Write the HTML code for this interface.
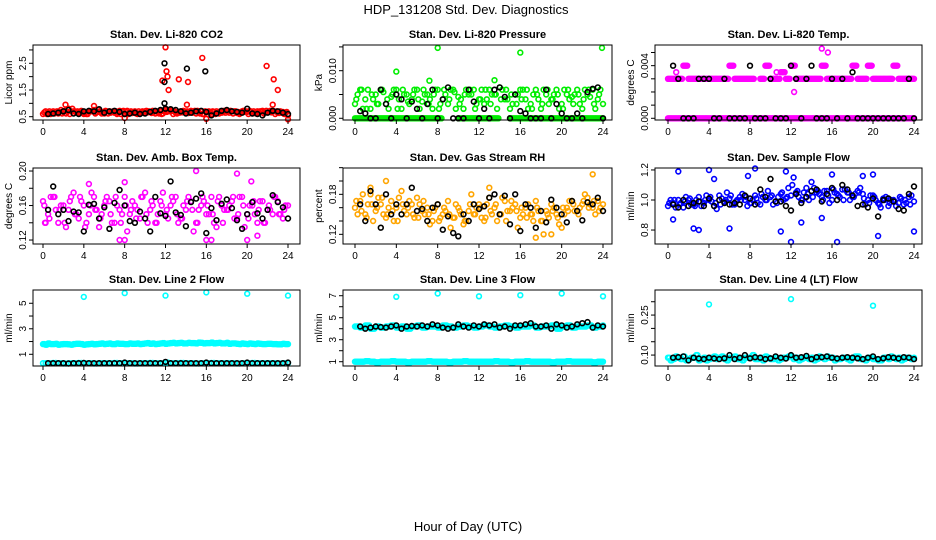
<!DOCTYPE html>
<html><head><meta charset="utf-8">
<style>
html,body{margin:0;padding:0;background:#fff;}
svg{display:block;font-family:"Liberation Sans",sans-serif;}
</style></head>
<body>
<svg id="chart" width="936" height="540" viewBox="0 0 936 540" xmlns="http://www.w3.org/2000/svg">
<text x="466" y="14" text-anchor="middle" font-size="13">HDP_131208  Std. Dev. Diagnostics</text>
<text x="468" y="531" text-anchor="middle" font-size="13">Hour of Day (UTC)</text>
</svg>
<script>
const xTicks=[0,4,8,12,16,20,24];
// hours (categories)
const H49=[];for(let i=0;i<49;i++)H49.push(i*0.5);
const H48b=[];for(let i=0;i<48;i++)H48b.push(0.25+i*0.5);
const H48c=[];for(let i=0;i<48;i++)H48c.push(0.125+i*0.5);
const H48d=[];for(let i=0;i<48;i++)H48d.push(0.375+i*0.5);
const HB=[];for(let i=0;i<48;i++)HB.push(0.5+i*0.5);

const co2A=[0.6,0.65,0.7,0.62,0.68,0.8,0.7,0.65,0.6,0.7,0.75,0.68,0.62,0.7,0.65,0.72,0.6,0.66,0.7,0.64,0.7,0.68,0.62,0.7,0.75,0.7,0.65,0.7,0.68,0.72,0.62,0.7,0.66,0.6,0.7,0.65,0.72,0.7,0.64,0.7,0.68,0.62,0.7,0.72,0.66,0.7,0.65,0.68,0.55];
const co2B=[0.7,0.6,0.68,0.75,0.62,0.7,0.65,0.72,0.6,0.7,0.66,0.62,0.7,0.68,0.6,0.7,0.72,0.64,0.6,0.7,0.66,0.72,0.68,0.62,0.7,0.6,0.68,0.72,0.64,0.7,0.66,0.6,0.7,0.68,0.62,0.72,0.65,0.7,0.6,0.68,0.72,0.64,0.7,0.66,0.72,0.6,0.7,0.65];
const co2C=[0.66,0.7,0.62,0.68,0.72,0.6,0.7,0.66,0.64,0.7,0.62,0.68,0.72,0.65,0.7,0.6,0.68,0.7,0.62,0.66,0.72,0.64,0.7,0.6,0.68,0.72,0.62,0.66,0.7,0.65,0.72,0.6,0.68,0.7,0.64,0.66,0.7,0.62,0.68,0.72,0.6,0.7,0.66,0.62,0.68,0.7,0.64,0.6];
const co2OutX=[12,11.7,12.1,12.2,12.3,13.3,14.2,15.6,21.9,22.6,23,2.2,5,14.1,22.5,24,16,8];
const co2OutY=[3.1,1.85,2.2,2.0,1.5,1.9,1.8,2.7,2.4,1.9,1.5,0.95,0.9,0.95,0.95,0.4,0.42,0.45];
const co2Blk=[0.6,0.62,0.65,0.7,0.75,0.62,0.6,0.7,0.72,0.7,0.78,0.65,0.7,0.72,0.68,0.6,0.62,0.65,0.6,0.62,0.68,0.72,0.75,0.8,0.78,0.75,0.7,0.62,0.65,0.7,0.72,0.68,0.55,0.62,0.72,0.75,0.7,0.68,0.65,0.8,0.62,0.6,0.55,0.65,0.72,0.7,0.65,0.6];
const co2BlkOutX=[11.9,11.9,11.9,14.1,15.9];
const co2BlkOutY=[2.5,1.8,1.0,2.3,2.2];

const presA=[0.003,0.006,0.004,0.002,0.005,0.006,0.003,0.0045,0.006,0.002,0.005,0.004,0.006,0.0035,0.005,0.002,0.006,0.004,0.003,0.006,0.0045,0.002,0.005,0.006,0.004,0.003,0.006,0.005,0.0065,0.004,0.002,0.005,0.006,0.004,0.003,0.006,0.002,0.005,0.004,0.006,0.003,0.005,0.0045,0.006,0.002,0.005,0.006,0.004,0.003];
const presB=[0.005,0.002,0.006,0.004,0.003,0.0055,0.002,0.006,0.004,0.005,0.003,0.006,0.002,0.005,0.004,0.006,0.003,0.005,0.006,0.002,0.004,0.006,0.005,0.003,0.006,0.004,0.005,0.002,0.006,0.004,0.003,0.005,0.006,0.002,0.005,0.004,0.006,0.003,0.005,0.002,0.006,0.004,0.005,0.003,0.006,0.0045,0.002,0.006];
const presC=[0.004,0.006,0.002,0.005,0.003,0.006,0.004,0.005,0.002,0.006,0.0035,0.005,0.004,0.006,0.003,0.005,0.002,0.006,0.004,0.0055,0.003,0.005,0.006,0.002,0.004,0.006,0.003,0.005,0.004,0.006,0.005,0.003,0.004,0.006,0.002,0.005,0.003,0.006,0.004,0.005,0.002,0.006,0.003,0.005,0.004,0.006,0.003,0.005];
const presZero=[0,0,0,0,0,0,0,0,0,0,0,0,0,0,0,0,0,null,null,null,0,0,0,0,0,0,0,0,null,null,0,0,0,0,0,0,0,0,0,0,0,0,0,0,0,0,0,0,0];
const presOutX=[8,16,23.9,4,7.2,13.5];
const presOutY=[0.0148,0.0138,0.0148,0.0098,0.0079,0.008];
const presBlk=[0.0015,0.001,0,0,0.006,0.003,0,0.005,0.004,0,0.0035,0.002,0,0.003,0.006,0,0.004,0.0065,0,0,0,0.006,0.0035,0,0.002,0,0.006,0.0065,0.0045,0,0.005,0.0015,0.001,0,0,0,0.006,0,0.003,0.001,0,0,0.001,0,0.0055,0.0062,0.0065,0];

const tempZero=[0,0,0,0,0,0,0,0,0,0,0,0,0,0,0,0,0,0,0,0,0,0,0,0,0,0,0,0,0,0,0,0,0,0,0,0,0,0,0,0,0,0,0,0,0,0,0,0,0];
const tempUp=[0.003,0.003,0.003,0.004,0.003,0.003,0.003,0.003,0.003,0.003,0.003,0.003,0.004,0.003,0.003,0.003,0.003,null,0.003,0.004,0.003,0.003,0.0035,0.003,0.004,0.003,0.003,0.003,0.003,0.003,0.004,0.003,0.003,0.003,0.003,0.003,0.004,0.003,0.003,0.004,0.003,0.003,0.003,0.003,0.004,0.003,0.003,0.003,0.003];
const tempOutX=[15,15.6,12.3,0.8,10.6];
const tempOutY=[0.0053,0.005,0.002,0.0035,0.0035];
const tempBlk=[0.004,0.003,0,0,0,0.003,0.003,0.003,0,0,0.003,0,0,0,0,0.004,0,0,0,0.003,0,0,0,0.004,0.003,0,0.003,0.004,0,0,0,0.003,0,0.003,0,0.0035,0,0,0,0,0,0,0,0,0,0,0.003,0];

const ambA=[0.165,0.15,0.17,0.14,0.16,0.155,0.175,0.145,0.16,0.15,0.17,0.135,0.16,0.165,0.14,0.155,0.17,0.15,0.16,0.145,0.175,0.155,0.14,0.165,0.15,0.16,0.17,0.145,0.155,0.165,0.14,0.16,0.15,0.17,0.135,0.16,0.155,0.165,0.145,0.17,0.15,0.16,0.14,0.165,0.155,0.15,0.165,0.145,0.16];
const ambB=[0.14,0.17,0.155,0.16,0.135,0.17,0.15,0.165,0.14,0.175,0.155,0.15,0.17,0.14,0.16,0.15,0.13,0.165,0.155,0.17,0.14,0.16,0.15,0.175,0.145,0.165,0.14,0.16,0.17,0.13,0.155,0.165,0.15,0.14,0.17,0.155,0.16,0.145,0.17,0.135,0.16,0.15,0.165,0.14,0.155,0.17,0.15,0.16];
const ambC=[0.16,0.145,0.17,0.155,0.14,0.165,0.15,0.17,0.135,0.16,0.155,0.145,0.165,0.15,0.17,0.14,0.16,0.155,0.145,0.17,0.15,0.165,0.14,0.16,0.155,0.17,0.15,0.145,0.165,0.155,0.14,0.17,0.16,0.15,0.165,0.14,0.155,0.17,0.15,0.16,0.145,0.165,0.155,0.14,0.16,0.17,0.15,0.155];
const ambOutX=[15,19,16,16.5,20,21,7.5,8,0.2,8,20.4,4.5];
const ambOutY=[0.2,0.197,0.12,0.12,0.12,0.125,0.12,0.12,0.14,0.187,0.188,0.185];
const ambBlk=[0.155,0.182,0.15,0.155,0.142,0.153,0.152,0.13,0.161,0.162,0.145,0.158,0.133,0.163,0.178,0.16,0.142,0.14,0.153,0.145,0.13,0.17,0.151,0.148,0.188,0.152,0.149,0.136,0.164,0.168,0.174,0.128,0.157,0.143,0.162,0.167,0.157,0.143,0.133,0.15,0.164,0.151,0.145,0.155,0.172,0.164,0.158,0.145];

const rhA=[0.16,0.17,0.15,0.18,0.155,0.165,0.145,0.17,0.16,0.185,0.15,0.165,0.175,0.155,0.16,0.14,0.165,0.15,0.17,0.145,0.16,0.135,0.155,0.15,0.165,0.14,0.175,0.16,0.15,0.17,0.155,0.165,0.145,0.16,0.15,0.17,0.14,0.155,0.165,0.15,0.13,0.16,0.17,0.155,0.165,0.175,0.16,0.17,0.165];
const rhB=[0.15,0.18,0.165,0.14,0.175,0.15,0.16,0.14,0.175,0.155,0.17,0.145,0.165,0.15,0.135,0.16,0.145,0.155,0.13,0.165,0.15,0.14,0.18,0.16,0.145,0.165,0.15,0.14,0.175,0.155,0.16,0.13,0.15,0.165,0.14,0.155,0.12,0.145,0.16,0.135,0.15,0.17,0.155,0.16,0.18,0.165,0.15,0.16];
const rhC=[0.17,0.155,0.145,0.165,0.16,0.175,0.15,0.155,0.14,0.165,0.16,0.15,0.145,0.17,0.15,0.155,0.14,0.16,0.15,0.145,0.155,0.14,0.165,0.15,0.16,0.145,0.155,0.165,0.15,0.14,0.17,0.155,0.16,0.145,0.15,0.16,0.14,0.15,0.155,0.145,0.16,0.155,0.165,0.15,0.17,0.16,0.17,0.155];
const rhOutX=[3,1.5,23,17.5,19,13];
const rhOutY=[0.2,0.19,0.21,0.115,0.12,0.19];
const rhBlk=[0.165,0.14,0.185,0.165,0.13,0.18,0.15,0.165,0.15,0.165,0.19,0.155,0.158,0.14,0.16,0.165,0.127,0.147,0.122,0.117,0.15,0.14,0.165,0.158,0.162,0.175,0.18,0.15,0.178,0.135,0.18,0.125,0.165,0.16,0.13,0.155,0.138,0.172,0.16,0.15,0.138,0.17,0.155,0.141,0.168,0.165,0.175,0.155];

const sfA=[0.96,0.98,1.0,0.95,1.0,0.97,1.02,0.98,1.0,0.96,1.03,0.99,1.01,0.97,1.02,1.0,0.98,1.03,0.97,1.0,1.02,0.99,1.04,1.01,1.03,1.05,1.0,1.08,1.12,1.05,1.02,1.06,1.0,1.04,1.07,1.05,1.02,1.06,1.04,1.0,1.03,0.98,1.01,0.96,1.0,0.98,0.97,1.02,0.99];
const sfB=[1.0,0.95,0.98,1.02,0.97,1.0,0.96,1.03,0.99,0.94,1.01,1.05,0.97,1.0,1.04,0.96,1.0,0.98,1.02,1.06,0.97,1.02,1.0,1.08,1.15,1.02,1.05,1.0,1.08,1.04,1.06,0.98,1.05,1.02,1.07,1.0,1.04,1.08,0.97,1.03,1.0,0.95,1.02,1.0,0.96,1.01,0.98,1.03];
const sfC=[0.98,1.0,0.97,0.99,1.01,0.96,0.99,1.0,1.02,0.98,0.97,1.0,1.03,0.99,1.0,1.02,0.98,1.01,1.04,1.0,1.03,0.98,1.05,1.02,1.1,1.06,1.0,1.04,1.02,1.06,1.0,1.03,1.07,1.03,1.0,1.05,1.02,1.05,1.01,0.98,1.02,0.97,1.0,0.98,0.99,1.02,1.0,0.97];
const sfOutX=[0.5,1,2.5,3,4,6,8.5,11,11.5,12,13,15,16,16.5,19,20,20.5,24,4.5,7.8];
const sfOutY=[0.87,1.19,0.81,0.8,1.2,0.81,1.21,0.79,1.19,0.72,0.85,0.88,1.17,0.72,1.16,1.17,0.76,0.79,1.14,1.16];
const sfBlk=[0.97,0.95,1.0,0.96,0.98,0.99,0.96,1.01,0.96,1.0,0.98,0.97,0.98,0.97,1.03,1.01,0.97,1.07,1.02,1.14,0.99,0.99,0.96,0.93,1.04,0.98,1.02,1.06,1.07,0.99,1.04,1.08,1.0,1.1,1.07,1.03,0.96,0.97,0.95,1.01,0.89,1.0,1.01,0.99,0.94,0.93,1.04,1.09];

const l2A=[1.8,1.85,1.8,1.75,1.8,1.78,1.8,1.82,1.75,1.8,1.78,1.82,1.8,1.85,1.8,1.82,1.8,1.85,1.82,1.8,1.85,1.82,1.8,1.85,1.82,1.88,1.85,1.9,1.85,1.88,1.85,1.9,1.88,1.92,1.88,1.85,1.9,1.85,1.82,1.85,1.8,1.82,1.85,1.8,1.82,1.8,1.78,1.82,1.8];
const l2B=[1.75,1.8,1.82,1.78,1.8,1.75,1.82,1.8,1.78,1.82,1.8,1.85,1.82,1.8,1.85,1.82,1.8,1.82,1.85,1.82,1.88,1.85,1.82,1.88,1.85,1.9,1.88,1.85,1.9,1.88,1.92,1.85,1.88,1.85,1.9,1.85,1.82,1.85,1.8,1.82,1.85,1.8,1.82,1.8,1.82,1.8,1.78,1.8];
const l2Low=[0.3,0.3,0.32,0.3,0.28,0.3,0.3,0.32,0.3,0.3,0.28,0.3,0.3,0.3,0.32,0.3,0.3,0.3,0.28,0.3,0.3,0.32,0.3,0.3,0.35,0.3,0.3,0.32,0.3,0.3,0.28,0.3,0.3,0.32,0.3,0.3,0.3,0.3,0.28,0.3,0.3,0.32,0.3,0.3,0.3,0.3,0.28,0.3,0.3];
const l2OutX=[4,8,12,16,20,24];
const l2OutY=[5.5,5.8,5.6,5.85,5.75,5.6];
const l2Blk=[0.3,0.3,0.3,0.3,0.28,0.3,0.3,0.32,0.3,0.3,0.3,0.3,0.3,0.3,0.3,0.35,0.3,0.3,0.3,0.3,0.3,0.3,0.3,0.4,0.3,0.3,0.3,0.3,0.3,0.3,0.3,0.35,0.3,0.3,0.3,0.3,0.3,0.3,0.3,0.35,0.3,0.3,0.3,0.3,0.3,0.3,0.3,0.35];

const l3A=[4.2,4.1,4.3,4.0,4.2,4.1,4.2,4.3,4.1,4.2,4.0,4.2,4.3,4.1,4.2,4.2,4.1,4.3,4.2,4.1,4.2,4.3,4.2,4.1,4.2,4.3,4.2,4.1,4.2,4.3,4.2,4.1,4.2,4.2,4.3,4.1,4.2,4.2,4.3,4.0,4.2,4.3,4.1,4.2,4.2,4.3,4.1,4.2,4.3];
const l3Low=[1.0,1.0,1.05,1.0,0.95,1.0,1.0,1.05,1.0,1.0,0.95,1.0,1.0,1.0,1.05,1.0,1.0,1.0,0.95,1.0,1.0,1.05,1.0,1.0,1.0,1.0,1.0,1.05,1.0,1.0,0.95,1.0,1.0,1.05,1.0,1.0,1.0,1.0,0.95,1.0,1.0,1.05,1.0,1.0,1.0,1.0,0.95,1.0,1.0];
const l3OutX=[4,8,12,16,20,24];
const l3OutY=[6.9,7.2,6.95,7.05,7.2,6.95];
const l3Blk=[4.2,4.0,4.1,4.2,4.15,4.1,4.2,4.3,4.0,4.2,4.25,4.2,4.3,4.2,4.4,4.3,4.1,4.0,4.1,4.4,4.2,4.1,4.3,4.2,4.4,4.3,4.4,4.1,4.2,4.0,4.3,4.3,4.4,4.5,4.2,4.2,4.3,4.0,4.4,4.3,4.1,4.2,4.4,4.5,4.6,4.1,4.3,4.2];

const l4A=[0.09,0.085,0.09,0.095,0.085,0.09,0.08,0.09,0.085,0.095,0.09,0.085,0.09,0.095,0.085,0.09,0.09,0.085,0.09,0.095,0.085,0.09,0.085,0.09,0.095,0.09,0.085,0.09,0.09,0.085,0.09,0.095,0.09,0.085,0.09,0.085,0.09,0.095,0.085,0.09,0.085,0.08,0.09,0.085,0.09,0.09,0.085,0.09,0.09];
const l4B=[0.08,0.095,0.085,0.08,0.09,0.1,0.085,0.08,0.09,0.085,0.095,0.08,0.09,0.085,0.08,0.09,0.1,0.085,0.08,0.09,0.085,0.08,0.09,0.095,0.085,0.08,0.09,0.085,0.08,0.095,0.085,0.09,0.08,0.085,0.09,0.08,0.095,0.085,0.08,0.09,0.085,0.08,0.09,0.095,0.085,0.08,0.09,0.085];
const l4OutX=[4,12,20];
const l4OutY=[0.29,0.31,0.285];
const l4Blk=[0.09,0.092,0.095,0.08,0.09,0.087,0.085,0.09,0.087,0.085,0.088,0.1,0.085,0.09,0.1,0.088,0.092,0.09,0.085,0.088,0.095,0.09,0.087,0.1,0.09,0.092,0.097,0.085,0.092,0.092,0.095,0.09,0.087,0.09,0.092,0.09,0.088,0.085,0.09,0.095,0.085,0.088,0.092,0.09,0.087,0.092,0.09,0.085];

const NS="http://www.w3.org/2000/svg";
const svg=document.getElementById('chart');
function mk(tag,attrs,parent){const e=document.createElementNS(NS,tag);for(const k in attrs)e.setAttribute(k,attrs[k]);(parent||svg).appendChild(e);return e;}

const cols=[{l:33,r:300,x0:43,x24:288},{l:343,r:612,x0:355,x24:603},{l:655,r:922,x0:668,x24:914}];
const rows=[{t:45,b:120},{t:168,b:244},{t:290,b:366}];

const panels=[
 {name:'co2',title:'Stan. Dev. Li-820 CO2',ylab:'Licor ppm',c:0,r:0,ymin:0.376,ymax:3.185,ticks:[0.5,1,1.5,2,2.5,3],labels:['0.5','1.5','2.5'],lv:[0.5,1.5,2.5],col:'#ff0000',
  series:[[H49,co2A],[H48b,co2B],[H48c,co2C],[H48d,co2A],[co2OutX,co2OutY]],blk:[[HB,co2Blk],[co2BlkOutX,co2BlkOutY]]},
 {name:'pressure',title:'Stan. Dev. Li-820 Pressure',ylab:'kPa',c:1,r:0,ymin:-0.00036,ymax:0.0154,ticks:[0,0.005,0.01,0.015],labels:['0.000','0.010'],lv:[0,0.01],col:'#00ee00',
  series:[[H49,presZero],[H48b,presZero],[H48c,presZero],[H48d,presZero],[H49,presA],[H48b,presB],[H48c,presC],[presOutX,presOutY]],blk:[[HB,presBlk]]},
 {name:'temp',title:'Stan. Dev. Li-820 Temp.',ylab:'degrees C',c:2,r:0,ymin:-0.00013,ymax:0.00557,ticks:[0,0.001,0.002,0.003,0.004,0.005],labels:['0.000','0.004'],lv:[0,0.004],col:'#ff00ff',
  series:[[H49,tempZero],[H48b,tempZero],[H48c,tempZero],[H48d,tempZero],[H49,tempUp],[H48b,tempUp],[H48c,tempUp],[H48d,tempUp],[tempOutX,tempOutY]],blk:[[HB,tempBlk]]},
 {name:'amb-temp',title:'Stan. Dev. Amb. Box Temp.',ylab:'degrees C',c:0,r:1,ymin:0.1154,ymax:0.2035,ticks:[0.12,0.14,0.16,0.18,0.2],labels:['0.12','0.16','0.20'],lv:[0.12,0.16,0.2],col:'#ff00ff',
  series:[[H49,ambA],[H48b,ambB],[H48c,ambC],[ambOutX,ambOutY]],blk:[[HB,ambBlk]]},
 {name:'rh',title:'Stan. Dev. Gas Stream RH',ylab:'percent',c:1,r:1,ymin:0.1055,ymax:0.2195,ticks:[0.12,0.14,0.16,0.18,0.2,0.22],labels:['0.12','0.18'],lv:[0.12,0.18],col:'#ffa500',
  series:[[H49,rhA],[H48b,rhB],[H48c,rhC],[rhOutX,rhOutY]],blk:[[HB,rhBlk]]},
 {name:'sample-flow',title:'Stan. Dev. Sample Flow',ylab:'ml/min',c:2,r:1,ymin:0.707,ymax:1.213,ticks:[0.8,1.0,1.2],labels:['0.8','1.0','1.2'],lv:[0.8,1.0,1.2],col:'#0000ff',
  series:[[H49,sfA],[H48b,sfB],[H48c,sfC],[sfOutX,sfOutY]],blk:[[HB,sfBlk]]},
 {name:'line2-flow',title:'Stan. Dev. Line 2 Flow',ylab:'ml/min',c:0,r:2,ymin:0.082,ymax:6.04,ticks:[1,2,3,4,5],labels:['1','3','5'],lv:[1,3,5],col:'#00ffff',
  series:[[H49,l2A],[H48b,l2B],[H48c,l2A],[H48d,l2B],[H49,l2Low],[H48b,l2Low],[l2OutX,l2OutY]],blk:[[HB,l2Blk]]},
 {name:'line3-flow',title:'Stan. Dev. Line 3 Flow',ylab:'ml/min',c:1,r:2,ymin:0.61,ymax:7.52,ticks:[1,2,3,4,5,6,7],labels:['1','3','5','7'],lv:[1,3,5,7],col:'#00ffff',
  series:[[H49,l3A],[H48b,l3A],[H48c,l3A],[H48d,l3A],[H49,l3Low],[H48b,l3Low],[H48c,l3Low],[H48d,l3Low],[l3OutX,l3OutY]],blk:[[HB,l3Blk]]},
 {name:'line4-flow',title:'Stan. Dev. Line 4 (LT) Flow',ylab:'ml/min',c:2,r:2,ymin:0.059,ymax:0.344,ticks:[0.1,0.15,0.2,0.25,0.3],labels:['0.10','0.25'],lv:[0.1,0.25],col:'#00ffff',
  series:[[H49,l4A],[H48b,l4B],[H48c,l4A],[H48d,l4B],[l4OutX,l4OutY]],blk:[[HB,l4Blk]]}
];

panels.forEach(p=>{
  const C=cols[p.c],R=rows[p.r];
  const g=mk('g',{});
  
  
  const xs=h=>C.x0+(C.x24-C.x0)*h/24;
  const ys=v=>R.b-(R.b-R.t)*(v-p.ymin)/(p.ymax-p.ymin);
  const t=mk('text',{x:(C.l+C.r)/2,y:R.t-7,'text-anchor':'middle','font-size':'11','font-weight':'bold'},g);
  t.textContent=p.title;
  
  
  const pts=mk('g',{fill:'none','stroke-width':'1.6'},g);
  
  
  const draw=(X,Y,color)=>{const n=Math.min(X.length,Y.length);for(let i=0;i<n;i++){if(Y[i]===null||Y[i]===undefined)continue;const c=mk('circle',{cx:xs(X[i]).toFixed(1),cy:ys(Y[i]).toFixed(1),r:'2.4',stroke:color},pts);
    
    }};
  p.series.forEach(s=>draw(s[0],s[1],p.col));
  p.blk.forEach(s=>draw(s[0],s[1],'#000'));
  const box=mk('rect',{x:C.l,y:R.t,width:C.r-C.l,height:R.b-R.t,fill:'none',stroke:'#000','stroke-width':'1'},g);
  
  
  const ax=mk('g',{stroke:'#000','stroke-width':'1'},g);
  
  
  mk('line',{x1:xs(0),x2:xs(24),y1:R.b,y2:R.b},ax);
  xTicks.forEach(h=>{mk('line',{x1:xs(h),x2:xs(h),y1:R.b,y2:R.b+4},ax);
    const tl=mk('text',{x:xs(h),y:R.b+15,'text-anchor':'middle','font-size':'10',stroke:'none',fill:'#000'},ax);tl.textContent=h;
    
    });
  const ay=mk('g',{stroke:'#000','stroke-width':'1'},g);
  
  
  mk('line',{x1:C.l,x2:C.l,y1:ys(p.ticks[0]),y2:ys(p.ticks[p.ticks.length-1])},ay);
  p.ticks.forEach(v=>mk('line',{x1:C.l-4,x2:C.l,y1:ys(v),y2:ys(v)},ay));
  p.lv.forEach((v,i)=>{const y=ys(v),x=C.l-7;const tl=mk('text',{x:x,y:y,'text-anchor':'middle','font-size':'10',stroke:'none',fill:'#000',transform:`rotate(-90 ${x} ${y})`},ay);tl.textContent=p.labels[i];
    
    });
  const yx=C.l-21,yy=(R.t+R.b)/2;
  const yl=mk('text',{x:yx,y:yy,'text-anchor':'middle','font-size':'10',transform:`rotate(-90 ${yx} ${yy})`},g);
  yl.textContent=p.ylab;
  
  
});
</script>
</body></html>
